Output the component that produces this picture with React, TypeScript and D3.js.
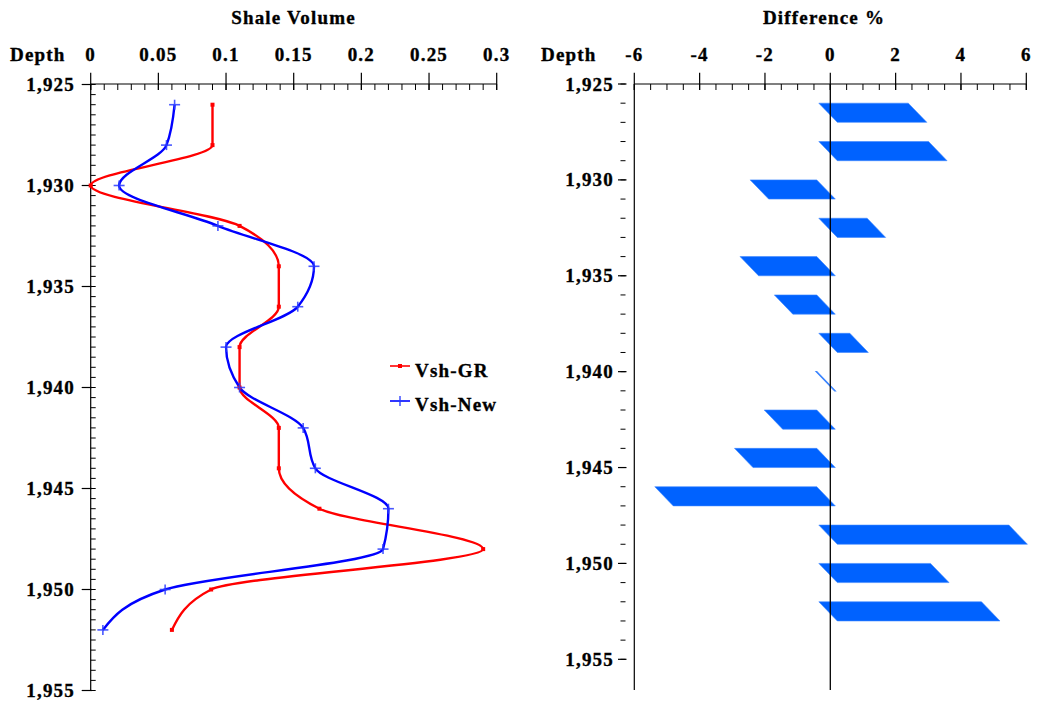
import React from "react";
import * as d3 from "d3";

const depths = [1926, 1928, 1930, 1932, 1934, 1936, 1938, 1940, 1942, 1944, 1946, 1948, 1950, 1952];
const vshGR = [0.09, 0.09, 0.0, 0.11, 0.139, 0.139, 0.11, 0.11, 0.139, 0.139, 0.169, 0.29, 0.089, 0.06];
const vshNew = [0.062, 0.056, 0.021, 0.094, 0.165, 0.153, 0.1, 0.11, 0.157, 0.166, 0.22, 0.216, 0.055, 0.009];
const diffPct = [2.74, 3.36, -2.04, 1.48, -2.35, -1.3, 0.95, -0.02, -1.61, -2.52, -4.96, 5.82, 3.42, 4.98];

const leftXTicks = [0, 0.05, 0.1, 0.15, 0.2, 0.25, 0.3];
const rightXTicks = [-6, -4, -2, 0, 2, 4, 6];
const depthTicks = [1925, 1930, 1935, 1940, 1945, 1950, 1955];

const FONT = "'Liberation Serif', 'Times New Roman', serif";
const txt = {
  fontFamily: FONT,
  fontWeight: 700,
  fontSize: 19,
  letterSpacing: 1.2,
  fill: "#000",
  stroke: "#000",
  strokeWidth: 0.35,
} as const;

export default function App() {
  // left panel scales
  const xL = d3.scaleLinear().domain([0, 0.3]).range([90.7, 496.7]);
  const yL = d3.scaleLinear().domain([1925, 1955]).range([84.5, 690.5]);
  // right panel scales
  const xR = d3.scaleLinear().domain([-6, 6]).range([634.3, 1026.3]);
  const yR = d3.scaleLinear().domain([1925, 1956.6]).range([84, 690]);

  const fmt = d3.format(",");
  const line = d3
    .line<[number, number]>()
    .x((d) => xL(d[1]))
    .y((d) => yL(d[0]))
    .curve(d3.curveMonotoneY);

  const grPts: [number, number][] = depths.map((d, i) => [d, vshGR[i]]);
  const newPts: [number, number][] = depths.map((d, i) => [d, vshNew[i]]);

  const leftMinorX = d3.range(0, 0.3001, 0.01);
  const leftMinorY = d3.range(1925, 1955.001, 0.5);
  const rightMinorX = d3.range(-6, 6.001, 0.5);
  const rightMinorY = d3.range(1925, 1955.001, 1);

  const x0 = xR(0);
  const bars = depths.map((d, i) => {
    const v = diffPct[i];
    const a = v >= 0 ? -11.5 : -13.5;
    const b = a + 18.5;
    const yt = yR(d);
    const yb = yR(d + 1);
    const xv = xR(v);
    const pts = [
      [x0 + a, yt],
      [xv + a, yt],
      [xv + b, yb],
      [x0 + b, yb],
    ];
    return pts.map((p) => p.join(",")).join(" ");
  });

  const plus = (cx: number, cy: number, key: string) => (
    <g key={key} stroke="#2a3cff" strokeWidth={1.6} opacity={0.85}>
      <line x1={cx - 5.5} x2={cx + 5.5} y1={cy} y2={cy} />
      <line x1={cx} x2={cx} y1={cy - 5} y2={cy + 5} />
    </g>
  );

  return (
    <svg width={1038} height={703} style={{ position: "absolute", left: 0, top: 0, background: "#fff" }}>
      {/* Titles */}
      <text x={293.5} y={24} textAnchor="middle" style={txt}>Shale Volume</text>
      <text x={824} y={24} textAnchor="middle" style={txt}>Difference %</text>
      <text x={10} y={61} style={txt}>Depth</text>
      <text x={541} y={61} style={txt}>Depth</text>

      {/* LEFT PANEL AXES */}
      <g stroke="#000" strokeWidth={1.2}>
        <line x1={xL(0)} x2={xL(0.3)} y1={84} y2={84} />
        <line x1={xL(0)} x2={xL(0)} y1={84} y2={690.5} />
        {leftMinorX.map((t, i) => (
          <line key={"lmx" + i} x1={xL(t)} x2={xL(t)} y1={84} y2={90} strokeWidth={1} />
        ))}
        {leftXTicks.map((t, i) => (
          <line key={"lMx" + i} x1={xL(t)} x2={xL(t)} y1={72.7} y2={90} />
        ))}
        {leftMinorY.map((t, i) => (
          <line key={"lmy" + i} x1={xL(0)} x2={xL(0) + 5} y1={yL(t)} y2={yL(t)} strokeWidth={1} />
        ))}
        {depthTicks.map((t, i) => (
          <line key={"lMy" + i} x1={81.7} x2={92} y1={yL(t)} y2={yL(t)} />
        ))}
      </g>
      {leftXTicks.map((t, i) => (
        <text key={"lxl" + i} x={xL(t)} y={61} textAnchor="middle" style={txt}>{String(t)}</text>
      ))}
      {depthTicks.map((t, i) => (
        <text key={"lyl" + i} x={75} y={yL(t) + 6.5} textAnchor="end" style={txt}>{fmt(t)}</text>
      ))}

      {/* LEFT PANEL CURVES */}
      <path d={line(grPts) || ""} fill="none" stroke="#ff0000" strokeWidth={2.4} />
      <path d={line(newPts) || ""} fill="none" stroke="#0000ff" strokeWidth={2.4} />
      {grPts.map((p, i) => (
        <rect key={"gm" + i} x={xL(p[1]) - 2} y={yL(p[0]) - 2} width={4} height={4} fill="#ff0000" />
      ))}
      {newPts.map((p, i) => plus(xL(p[1]), yL(p[0]), "nm" + i))}

      {/* LEGEND */}
      <line x1={390} x2={410} y1={366} y2={366} stroke="#ff0000" strokeWidth={1.6} />
      <rect x={398} y={364} width={4} height={4} fill="#ff0000" />
      <text x={415} y={377} style={txt}>Vsh-GR</text>
      <line x1={390} x2={410} y1={401} y2={401} stroke="#0000ff" strokeWidth={1.6} />
      {plus(400, 401, "lg")}
      <text x={415} y={411} style={txt}>Vsh-New</text>

      {/* RIGHT PANEL AXES */}
      <g stroke="#000" strokeWidth={1.2}>
        <line x1={xR(-6)} x2={xR(6)} y1={84} y2={84} />
        <line x1={xR(-6)} x2={xR(-6)} y1={84} y2={690} />
        {rightMinorX.map((t, i) => (
          <line key={"rmx" + i} x1={xR(t)} x2={xR(t)} y1={84} y2={90} strokeWidth={1} />
        ))}
        {rightXTicks.map((t, i) => (
          <line key={"rMx" + i} x1={xR(t)} x2={xR(t)} y1={72.7} y2={90} />
        ))}
        {rightMinorY.map((t, i) => (
          <line key={"rmy" + i} x1={620.5} x2={625.5} y1={yR(t)} y2={yR(t)} strokeWidth={1} />
        ))}
        {depthTicks.map((t, i) => (
          <line key={"rMy" + i} x1={618} x2={626.5} y1={yR(t)} y2={yR(t)} />
        ))}
      </g>
      {rightXTicks.map((t, i) => (
        <text key={"rxl" + i} x={xR(t)} y={61} textAnchor="middle" style={txt}>{String(t)}</text>
      ))}
      {depthTicks.map((t, i) => (
        <text key={"ryl" + i} x={614} y={yR(t) + 6.5} textAnchor="end" style={txt}>{fmt(t)}</text>
      ))}

      {/* BARS */}
      {bars.map((p, i) => (
        <polygon key={"b" + i} points={p} fill="#0062ff" stroke="#3d86ff" strokeWidth={Math.abs(diffPct[i]) < 0.1 ? 1.2 : 0.6} />
      ))}
      <line x1={x0} x2={x0} y1={84} y2={690} stroke="#000" strokeWidth={1.3} />
    </svg>
  );
}
